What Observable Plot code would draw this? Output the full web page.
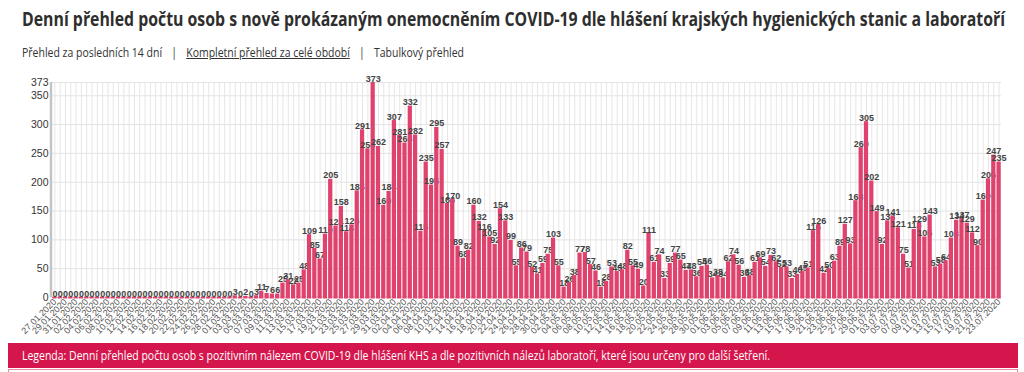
<!DOCTYPE html>
<html><head><meta charset="utf-8">
<script src="https://cdn.jsdelivr.net/npm/d3@7"></script>
<script src="https://cdn.jsdelivr.net/npm/@observablehq/plot@0.6"></script>
<style>
html,body{margin:0;padding:0;background:#fff}
body{width:1024px;height:372px;overflow:hidden;position:relative;font-family:"Open Sans",sans-serif;color:#333}
#title{position:absolute;left:22px;top:5px;font-weight:700;font-size:20px;white-space:nowrap;transform-origin:left top;color:#2e2e2e}
#nav{position:absolute;left:22px;top:44px;font-size:12.5px;white-space:nowrap;transform-origin:left top;color:#333}
#nav .sep{padding:0 11px}
#nav u{text-decoration:underline}
#chart{position:absolute;left:0;top:72px}
#legend{position:absolute;left:8px;top:343px;width:1010px;height:25px;background:#d5164c}
#legendText{position:absolute;left:14px;top:4px;font-size:12px;color:#fff;white-space:nowrap;transform-origin:left top}
#below{position:absolute;left:8px;top:369px;width:1008px;height:10px;border:1px solid #ec8aa3;border-bottom:none}
</style></head>
<body>
<div id="title">Denní přehled počtu osob s nově prokázaným onemocněním COVID-19 dle hlášení krajských hygienických stanic a laboratoří</div>
<div id="nav">Přehled za posledních 14 dní<span class="sep">|</span><u>Kompletní přehled za celé období</u><span class="sep">|</span>Tabulkový přehled</div>
<div id="chart"></div>
<div id="legend"><div id="legendText">Legenda: Denní přehled počtu osob s pozitivním nálezem COVID-19 dle hlášení KHS a dle pozitivních nálezů laboratoří, které jsou určeny pro další šetření.</div></div>
<div id="below"></div>
<script>
const dates = [
"27.01.2020","28.01.2020","29.01.2020","30.01.2020","31.01.2020",
"01.02.2020","02.02.2020","03.02.2020","04.02.2020","05.02.2020","06.02.2020","07.02.2020","08.02.2020","09.02.2020","10.02.2020",
"11.02.2020","12.02.2020","13.02.2020","14.02.2020","15.02.2020","16.02.2020","17.02.2020","18.02.2020","19.02.2020","20.02.2020",
"21.02.2020","22.02.2020","23.02.2020","24.02.2020","25.02.2020","26.02.2020","27.02.2020","28.02.2020","29.02.2020",
"01.03.2020","02.03.2020","03.03.2020","04.03.2020","05.03.2020","06.03.2020","07.03.2020","08.03.2020","09.03.2020","10.03.2020",
"11.03.2020","12.03.2020","13.03.2020","14.03.2020","15.03.2020","16.03.2020","17.03.2020","18.03.2020","19.03.2020","20.03.2020",
"21.03.2020","22.03.2020","23.03.2020","24.03.2020","25.03.2020","26.03.2020","27.03.2020","28.03.2020","29.03.2020","30.03.2020","31.03.2020",
"01.04.2020","02.04.2020","03.04.2020","04.04.2020","05.04.2020","06.04.2020","07.04.2020","08.04.2020","09.04.2020","10.04.2020",
"11.04.2020","12.04.2020","13.04.2020","14.04.2020","15.04.2020","16.04.2020","17.04.2020","18.04.2020","19.04.2020","20.04.2020",
"21.04.2020","22.04.2020","23.04.2020","24.04.2020","25.04.2020","26.04.2020","27.04.2020","28.04.2020","29.04.2020","30.04.2020",
"01.05.2020","02.05.2020","03.05.2020","04.05.2020","05.05.2020","06.05.2020","07.05.2020","08.05.2020","09.05.2020","10.05.2020",
"11.05.2020","12.05.2020","13.05.2020","14.05.2020","15.05.2020","16.05.2020","17.05.2020","18.05.2020","19.05.2020","20.05.2020",
"21.05.2020","22.05.2020","23.05.2020","24.05.2020","25.05.2020","26.05.2020","27.05.2020","28.05.2020","29.05.2020","30.05.2020","31.05.2020",
"01.06.2020","02.06.2020","03.06.2020","04.06.2020","05.06.2020","06.06.2020","07.06.2020","08.06.2020","09.06.2020","10.06.2020",
"11.06.2020","12.06.2020","13.06.2020","14.06.2020","15.06.2020","16.06.2020","17.06.2020","18.06.2020","19.06.2020","20.06.2020",
"21.06.2020","22.06.2020","23.06.2020","24.06.2020","25.06.2020","26.06.2020","27.06.2020","28.06.2020","29.06.2020","30.06.2020",
"01.07.2020","02.07.2020","03.07.2020","04.07.2020","05.07.2020","06.07.2020","07.07.2020","08.07.2020","09.07.2020","10.07.2020",
"11.07.2020","12.07.2020","13.07.2020","14.07.2020","15.07.2020","16.07.2020","17.07.2020","18.07.2020","19.07.2020","20.07.2020",
"21.07.2020","22.07.2020","23.07.2020"
];
const cases = [
0,0,0,0,0,
0,0,0,0,0,0,0,0,0,0,0,0,0,0,0,0,0,0,0,0,0,0,0,0,0,0,0,0,0,
3,0,2,0,3,11,7,6,6,25,31,22,25,48,109,85,67,110,205,124,158,114,126,185,291,258,373,262,160,184,307,
281,268,332,282,115,235,195,295,257,163,170,89,68,82,160,132,116,105,92,154,133,99,55,86,79,52,41,59,75,103,
55,18,26,38,77,78,57,46,18,28,53,45,48,82,55,49,20,111,61,74,33,59,77,65,47,48,36,54,56,34,38,
34,62,74,56,35,38,61,69,54,73,62,52,53,33,40,45,51,116,126,42,50,63,89,127,93,168,260,305,202,149,
92,133,141,121,75,51,118,129,105,143,53,58,64,103,134,137,129,112,90,169,206,247,235
];
const yTicks = [0,50,100,150,200,250,300,350,373];
const xTickLabels = dates.filter((d, i) => i % 2 === 0);

const data = dates.map((d, i) => ({date: d, value: cases[i]}));
const barColor = "#df426c";

const perBar = data.flatMap(d => [
  Plot.barY([d], {x: "date", y: "value", fill: barColor}),
  Plot.text([d], {x: "date", y: "value", text: d => String(d.value), lineAnchor: "bottom", dy: -1,
    fontSize: 9, fontWeight: "bold", fill: "#444", fontFamily: "Liberation Sans, Arial, sans-serif"})
]);

const chart = Plot.plot({
  width: 1024,
  height: 263,
  marginLeft: 52,
  marginRight: 23,
  marginTop: 10,
  marginBottom: 38,
  style: {fontFamily: "Liberation Sans, Arial, sans-serif", color: "#333", background: "transparent"},
  x: {type: "band", domain: dates, paddingInner: 0.2, paddingOuter: 0.05},
  y: {domain: [0, 373]},
  marks: [
    Plot.gridX(dates, {stroke: "#e6e6e6", strokeOpacity: 1, strokeWidth: 1}),
    Plot.gridY(yTicks, {stroke: "#e3e3e3", strokeOpacity: 1}),
    Plot.axisY(yTicks, {tickSize: 0, tickPadding: 4, fontSize: 10.5, fill: "#333", label: null}),
    Plot.axisX(xTickLabels, {tickSize: 0, tickPadding: 3, tickRotate: -45, fontSize: 9, fill: "#555", label: null}),
    Plot.tickY(data, {x: "date", y: 0, stroke: barColor, strokeWidth: 2}),
    ...perBar
  ]
});
document.getElementById("chart").append(chart);

// y-axis line
const ys = chart.scale("y");
d3.select(chart).append("line")
  .attr("x1", 51).attr("x2", 51)
  .attr("y1", ys.range[1]).attr("y2", ys.range[0])
  .attr("stroke", "#c4c4c4").attr("stroke-width", 2.5);

function fit(id, target) {
  const el = document.getElementById(id);
  const w = el.getBoundingClientRect().width;
  el.style.transform = `scaleX(${target / w})`;
}
fit("title", 983);
fit("nav", 442);
fit("legendText", 748);
</script>
</body></html>
